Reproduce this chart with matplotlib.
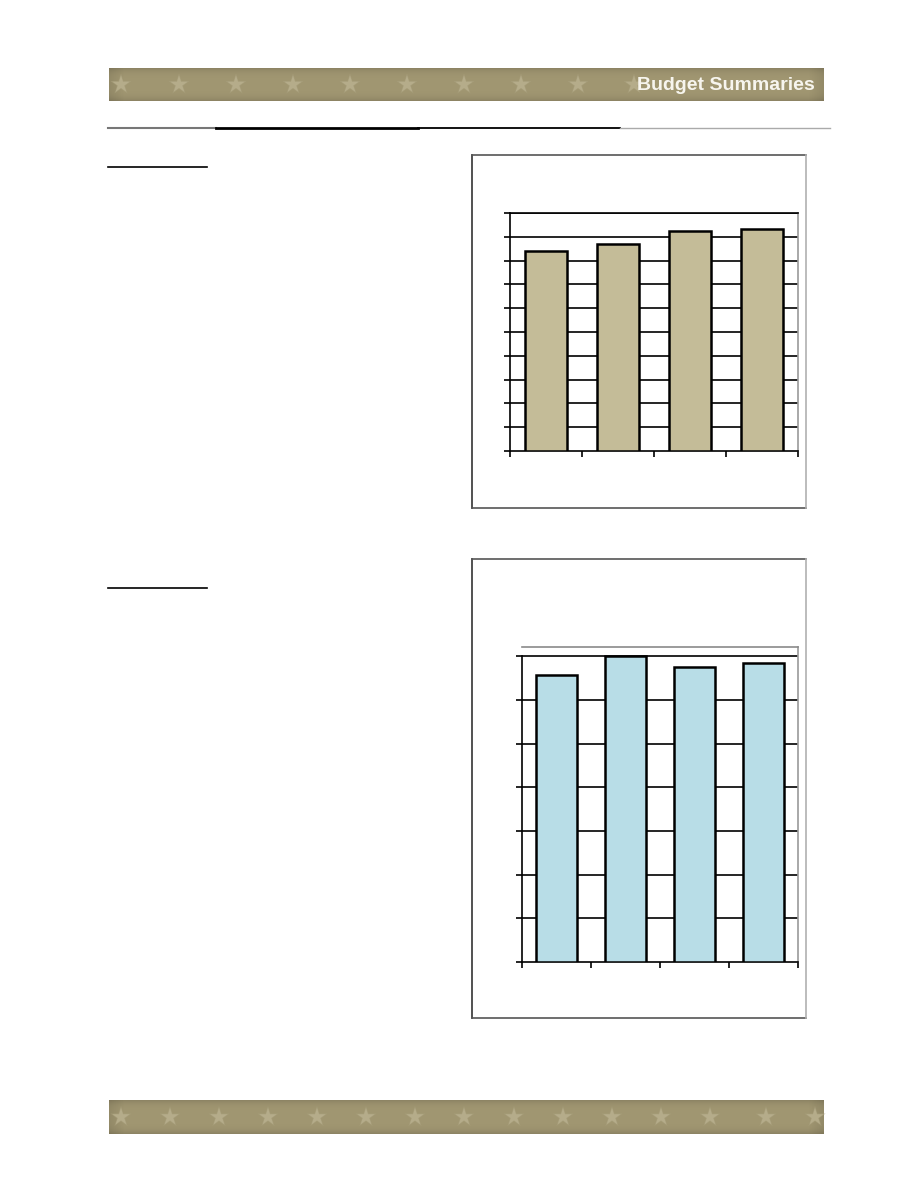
import numpy as np
import matplotlib.pyplot as plt

# bar values (no labels are shown on the page)
cats = ['A', 'B', 'C', 'D']
top_vals = [8.39, 8.68, 9.24, 9.33]      # upper chart, 10 grid steps
bottom_vals = [6.56, 7.00, 6.76, 6.85]   # lower chart, 7 grid steps

top_color = '#c4bc98'
bottom_color = '#b8dde7'

W, H = 918, 1188
fig = plt.figure(figsize=(W / 100, H / 100), dpi=100)
fig.patch.set_facecolor('white')

# page layer in pixel coordinates
bg = fig.add_axes([0, 0, 1, 1])
bg.set_xlim(0, W)
bg.set_ylim(H, 0)
bg.axis('off')


def banner(x0, x1, y0, y1, star_x):
    ny, nx = 40, 300
    yy = np.linspace(-1, 1, ny)[:, None]
    xx = np.linspace(-1, 1, nx)[None, :]
    shade = 1 - 0.12 * yy ** 4 - 0.08 * np.clip(np.abs(xx) - 0.96, 0, 1) / 0.04
    base = np.array([0.63, 0.59, 0.445])
    img = np.clip(shade[..., None] * base, 0, 1)
    bg.imshow(img, extent=(x0, x1, y1, y0), aspect='auto', zorder=1)
    yc = [(y0 + y1) / 2] * len(star_x)
    # soft halo then star, to look blurred like the scan
    bg.scatter(star_x, yc, marker='*', s=260, color='#aaa17e', edgecolors='none',
               alpha=0.6, zorder=2)
    bg.scatter(star_x, yc, marker='*', s=170, color='#b5ac8a', edgecolors='none',
               zorder=2)


banner(109, 824, 68, 101, [121, 179, 236, 293, 350, 407, 464, 521, 578, 634])
bg.text(815, 85, 'Budget Summaries', color='#f7f5ee', fontsize=14,
        fontweight='bold', family='Liberation Sans', ha='right', va='center', zorder=3)
banner(109, 824, 1100, 1134,
       [121, 170, 219, 268, 317, 366, 415, 464, 514, 563, 612, 661, 710, 766, 815])

# rule under the header
bg.plot([108, 216], [128, 128], color='#777777', lw=1.5)
bg.plot([216, 418], [128, 128], color='black', lw=2.0)
bg.plot([418, 620], [128, 128], color='black', lw=1.3)
bg.plot([620, 830], [128, 128], color='#aaaaaa', lw=1.0)

# short underlines of the section headings
bg.plot([108, 207], [167, 167], color='black', lw=1.2)
bg.plot([108, 207], [588, 588], color='black', lw=1.2)


def frame(x0, x1, y0, y1):
    bg.plot([x0, x0], [y0, y1], color='#333333', lw=1.2)
    bg.plot([x0, x1], [y0, y0], color='#555555', lw=1.2)
    bg.plot([x0, x1], [y1, y1], color='#555555', lw=1.2)
    bg.plot([x1, x1], [y0, y1], color='#b0b0b0', lw=1.2)


frame(472, 806, 155, 508)
frame(472, 806, 559, 1018)


def bar_chart(rect, vals, color, ymax, nlines, width, top_col):
    ax = fig.add_axes(rect)
    x = np.arange(len(cats))
    for k in range(1, nlines + 1):
        ax.axhline(k, color='black', lw=1.2, zorder=1)
    ax.bar(x, vals, width=width, color=color, edgecolor='black', lw=1.8, zorder=3)
    ax.set_xlim(-0.5, len(cats) - 0.5)
    ax.set_ylim(0, ymax)
    ax.set_yticks(np.arange(0, nlines + 1))
    ax.set_xticks(np.arange(-0.5, len(cats)))
    ax.tick_params(labelleft=False, labelbottom=False, length=4, width=1.2,
                   color='black', direction='out')
    ax.spines['top'].set_color(top_col)
    ax.spines['right'].set_color('#9a9a9a')
    for s in ('top', 'right'):
        ax.spines[s].set_linewidth(1.2)
    for s in ('left', 'bottom'):
        ax.spines[s].set_color('black')
        ax.spines[s].set_linewidth(1.2)
    ax.spines['left'].set_bounds(0, nlines)
    return ax


def frac(x0, x1, y0, y1):
    return [x0 / W, 1 - y1 / H, (x1 - x0) / W, (y1 - y0) / H]


bar_chart(frac(510, 798, 213, 451), top_vals, top_color, 10, 10, 0.58, 'black')
bar_chart(frac(522, 798, 647, 962), bottom_vals, bottom_color, 7.21, 7, 0.59, '#8a8a8a')

plt.savefig('out.png', dpi=100, facecolor='white')
